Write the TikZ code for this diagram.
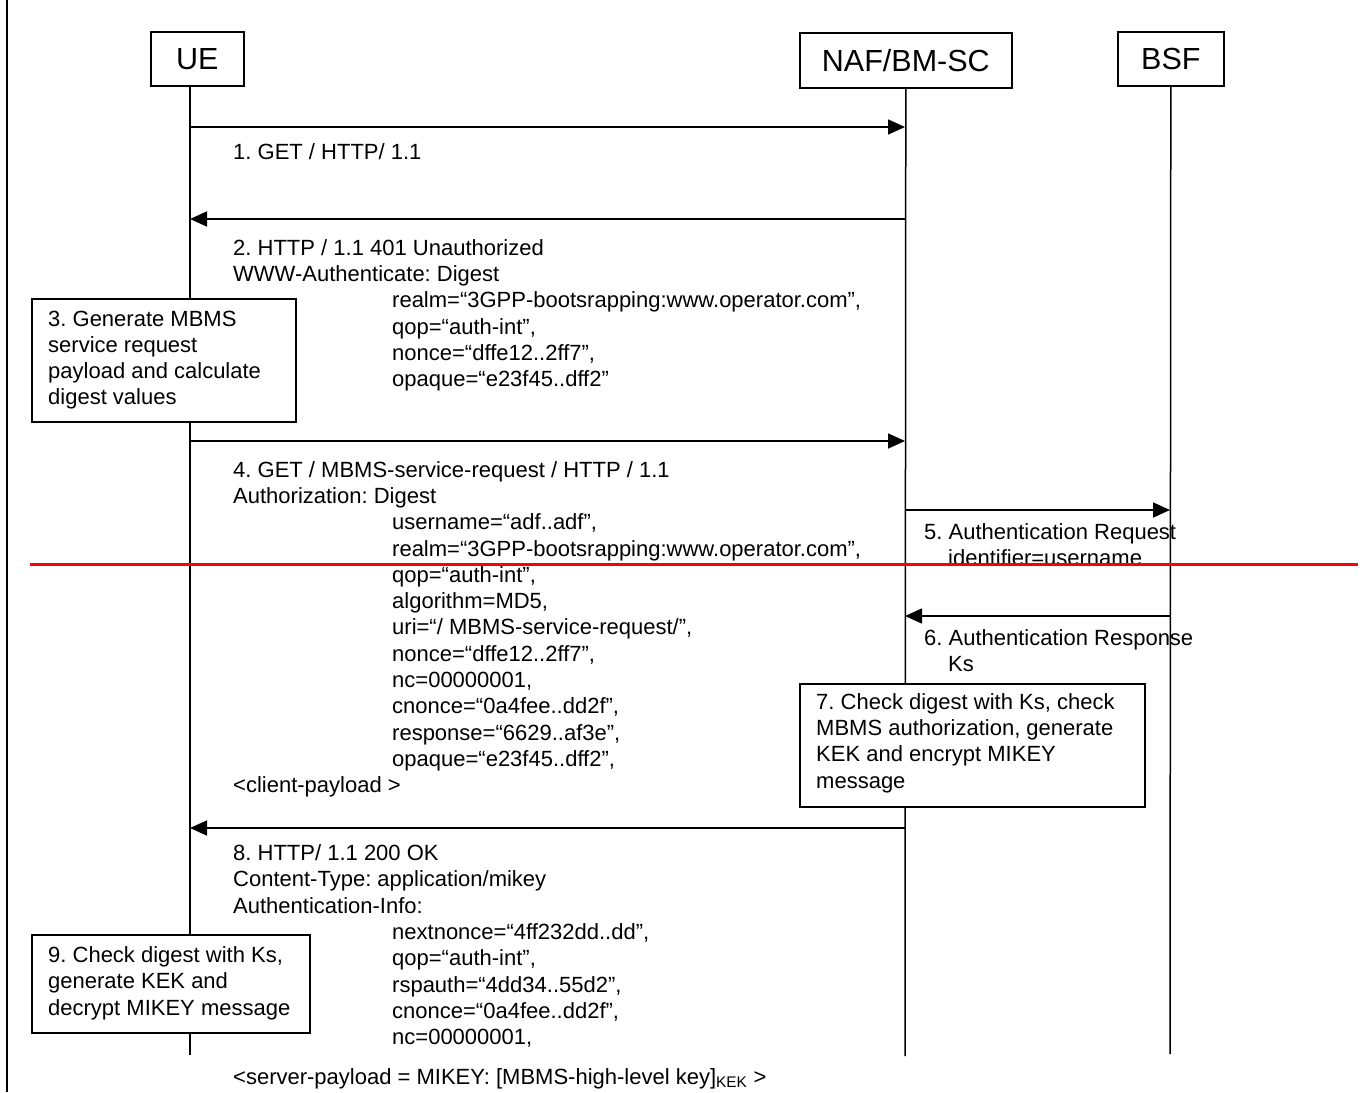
\documentclass[tikz,border=0pt]{standalone}
\usepackage{fontspec}
\setmainfont{Liberation Sans}
\usetikzlibrary{arrows.meta}
\frenchspacing
\tikzset{
  actor/.style={draw, line width=1.6pt, font=\fontsize{30.5}{36}\selectfont,
    inner sep=0pt, anchor=north west},
  life/.style={line width=1.5pt},
  msg/.style={line width=1.6pt, -{Triangle[length=17pt,width=15pt]}},
  lbl/.style={anchor=north west, inner sep=0pt, align=left,
    font=\fontsize{22}{26.3}\selectfont},
  notebox/.style={draw, line width=1.6pt, fill=white, anchor=north west,
    inner sep=0pt}
}
\newcommand{\ind}{\hspace*{159pt}}
\begin{document}
\begin{tikzpicture}[x=1pt, y=-1pt]
  \useasboundingbox (0,0) rectangle (1364,1092);
  % page frame on the left
  \draw[line width=2.5pt] (7,0) -- (7,1092);

  % entities
  \node[actor, minimum width=93pt, minimum height=54pt] (ue) at (150,31) {UE};
  \node[actor, minimum width=212pt, minimum height=55pt] (naf) at (799,32) {NAF/BM-SC};
  \node[actor, minimum width=106pt, minimum height=54pt] (bsf) at (1117,31) {BSF};

  % lifelines
  \coordinate (ueL) at (190,1055);
  \coordinate (nafL) at (905,1056);
  \coordinate (bsfL) at (1170,1054);
  \draw[life] (ue.south -| ueL) -- (ueL);
  \draw[life] (naf.south) -- (nafL);
  \draw[life] (bsf.south) -- (bsfL);

  % message rows
  \coordinate (r1) at (0,127);
  \coordinate (r2) at (0,219);
  \coordinate (r4) at (0,441);
  \coordinate (r5) at (0,510);
  \coordinate (r6) at (0,616);
  \coordinate (r8) at (0,828);
  \draw[msg] (ueL |- r1) -- (nafL |- r1);
  \draw[msg] (nafL |- r2) -- (ueL |- r2);
  \draw[msg] (ueL |- r4) -- (nafL |- r4);
  \draw[msg] (nafL |- r5) -- (bsfL |- r5);
  \draw[msg] (bsfL |- r6) -- (nafL |- r6);
  \draw[msg] (nafL |- r8) -- (ueL |- r8);

  % message texts
  \node[lbl] (t1) at (233,143.5) {1. GET / HTTP/ 1.1};
  \node[lbl] (t2) at (233,239) {2. HTTP / 1.1 401 Unauthorized\\
    WWW-Authenticate: Digest\\
    \ind realm=“3GPP-bootsrapping:www.operator.com”,\\
    \ind qop=“auth-int”,\\
    \ind nonce=“dffe12..2ff7”,\\
    \ind opaque=“e23f45..dff2”};
  \node[lbl] (t4) at (233,461) {4. GET / MBMS-service-request / HTTP / 1.1\\
    Authorization: Digest\\
    \ind username=“adf..adf”,\\
    \ind realm=“3GPP-bootsrapping:www.operator.com”,\\
    \ind qop=“auth-int”,\\
    \ind algorithm=MD5,\\
    \ind uri=“/ MBMS-service-request/”,\\
    \ind nonce=“dffe12..2ff7”,\\
    \ind nc=00000001,\\
    \ind cnonce=“0a4fee..dd2f”,\\
    \ind response=“6629..af3e”,\\
    \ind opaque=“e23f45..dff2”,\\
    <client-payload >};
  \begin{scope}
    \clip (900,480) rectangle (1364,565.5);
    \node[lbl] (t5) at (924,523.5) {5. Authentication Request\\
      \hspace*{24pt}identifier=username};
  \end{scope}
  \node[lbl] (t6) at (924,629.5) {6. Authentication Response\\
    \hspace*{24pt}Ks};
  \node[lbl] (t8) at (233,844.5) {8. HTTP/ 1.1 200 OK\\
    Content-Type: application/mikey\\
    Authentication-Info:\\
    \ind nextnonce=“4ff232dd..dd”,\\
    \ind qop=“auth-int”,\\
    \ind rspauth=“4dd34..55d2”,\\
    \ind cnonce=“0a4fee..dd2f”,\\
    \ind nc=00000001,};
  \node[lbl] (t10) at (233,1068) {<server-payload = MIKEY: [MBMS-high-level key]\textsubscript{KEK} >};

  % processing steps: framed boxes with their texts
  \node[notebox, minimum width=264pt, minimum height=123pt] (n3) at (31,298) {};
  \node[lbl] (n3t) at (48,310.5)
    {3. Generate MBMS\\service request\\payload and calculate\\digest values};
  \node[notebox, minimum width=345pt, minimum height=123pt] (n7) at (799,683) {};
  \node[lbl] (n7t) at (816,693)
    {7. Check digest with Ks, check\\MBMS authorization, generate\\KEK and encrypt MIKEY\\message};
  \node[notebox, minimum width=278pt, minimum height=98pt] (n9) at (31,934) {};
  \node[lbl] (n9t) at (48,946.5)
    {9. Check digest with Ks,\\generate KEK and\\decrypt MIKEY message};

  % red rule across the chart
  \draw[red, line width=3pt] (30,564) -- (1358,564);
\end{tikzpicture}
\end{document}
